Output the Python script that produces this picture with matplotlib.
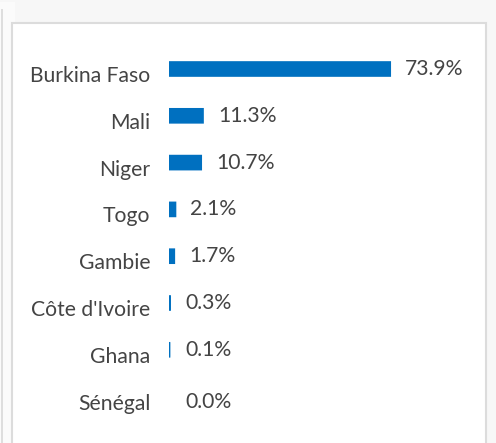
import matplotlib
matplotlib.use("Agg")
import matplotlib.pyplot as plt
from matplotlib.patches import Rectangle
from matplotlib.transforms import ScaledTranslation

categories = ["Burkina Faso", "Mali", "Niger", "Togo", "Gambie", "Côte d'Ivoire", "Ghana", "Sénégal"]
values = [73.9, 11.3, 10.7, 2.1, 1.7, 0.3, 0.1, 0.0]
value_labels = ["73.9%", "11.3%", "10.7%", "2.1%", "1.7%", "0.3%", "0.1%", "0.0%"]

W, H = 496, 443
fig = plt.figure(figsize=(W / 100, H / 100), dpi=100)
fig.patch.set_facecolor("#f7f7f7")

# background panels
fig.patches.append(Rectangle((0 / W, 0), 15 / W, 1 - 2 / H, transform=fig.transFigure,
                             facecolor="#fbfbfb", edgecolor="none", zorder=0))
fig.patches.append(Rectangle((1 / W, -0.1), 2 / W, 1.1 - 9 / H, transform=fig.transFigure,
                             facecolor="#dedede", edgecolor="none", zorder=0))
fig.patches.append(Rectangle((11.5 / W, -0.1), (486 - 11.5) / W, 1.1 - 23.5 / H,
                             transform=fig.transFigure, facecolor="white",
                             edgecolor="#dcdcdc", linewidth=1.5, zorder=1))

# axes: x 0 -> 169px, 73.9 -> 390px ; rows centres 69 + 46.8*i
px_per_unit = (390 - 169) / 73.9
ax_left = 169
xmax = 100
ax_w = xmax * px_per_unit
row = 46.8
top_px = 69 - row / 2
bot_px = 69 + row * 7.5
ax = fig.add_axes([ax_left / W, 1 - bot_px / H, ax_w / W, (bot_px - top_px) / H])
ax.set_zorder(2)
ax.patch.set_visible(False)

color = "#0070c0"
y = list(range(len(categories)))
lws = [1.5 if v > 0 else 0 for v in values]
bars = ax.barh(y, values, height=0.29, color=color, edgecolor=color, linewidth=lws)
for b in bars:
    b.set_snap(False)
ax.set_xlim(0, xmax)
ax.set_ylim(len(categories) - 0.5, -0.5)

font = "Lato"
txtc = "#444444"
fs = 15.2
ax.set_yticks(y)
ax.set_yticklabels(categories, fontsize=fs, family=font, color=txtc)
ax.tick_params(axis="y", length=0, pad=13.5)
ax.set_xticks([])
off = ScaledTranslation(0, -5 / 100, fig.dpi_scale_trans)
for lab in ax.get_yticklabels():
    lab.set_transform(lab.get_transform() + off)
for s in ax.spines.values():
    s.set_visible(False)

for i, (v, lab) in enumerate(zip(values, value_labels)):
    xo = max(v, 0.4)
    dy = -5 if v == 0 else 0
    ax.annotate(lab, (xo, i), xytext=(15, dy), textcoords="offset pixels",
                va="center", ha="left", fontsize=fs, family=font, color=txtc)

fig.savefig("out.png", dpi=100, facecolor=fig.get_facecolor())
